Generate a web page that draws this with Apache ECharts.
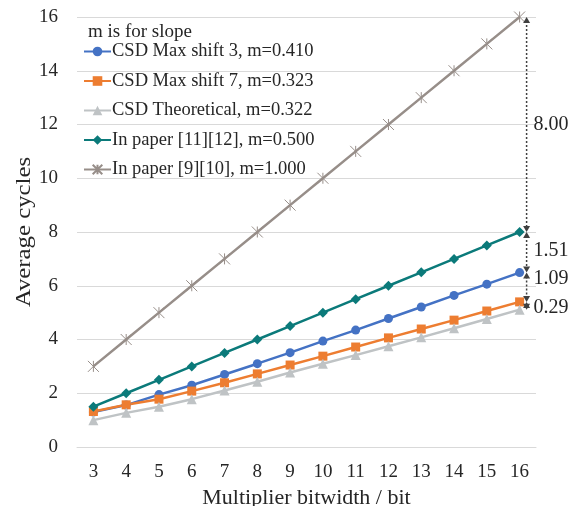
<!DOCTYPE html>
<html>
<head>
<meta charset="utf-8">
<script src="https://cdn.jsdelivr.net/npm/echarts@6/dist/echarts.min.js"></script>
<style>
  html, body { margin: 0; padding: 0; background: #fff; }
  #chart { width: 578px; height: 506px; }
</style>
</head>
<body>
<div id="chart"></div>
<script>
const categories = ['3', '4', '5', '6', '7', '8', '9', '10', '11', '12', '13', '14', '15', '16'];
const maxShift3 = [1.30, 1.56, 1.95, 2.30, 2.70, 3.10, 3.51, 3.94, 4.35, 4.78, 5.21, 5.64, 6.06, 6.49];
const maxShift7 = [1.32, 1.57, 1.78, 2.08, 2.39, 2.72, 3.05, 3.38, 3.72, 4.06, 4.39, 4.72, 5.06, 5.40];
const theoretical = [1.00, 1.27, 1.50, 1.78, 2.10, 2.43, 2.77, 3.10, 3.42, 3.75, 4.08, 4.42, 4.76, 5.11];
const paper1112 = [1.5, 2.0, 2.5, 3.0, 3.5, 4.0, 4.5, 5.0, 5.5, 6.0, 6.5, 7.0, 7.5, 8.0];
const paper910 = [3, 4, 5, 6, 7, 8, 9, 10, 11, 12, 13, 14, 15, 16];
// gap annotation on the right edge
const gapLevels = [16, 8.0, 6.49, 5.40, 5.11];
const gapLabels = ['8.00', '1.51', '1.09', '0.29'];
const gapLabelAt = [12, 7.3, 6.25, 5.2];

const font = '"Liberation Serif", "Times New Roman", serif';
const textColor = '#262626';

const chart = echarts.init(document.getElementById('chart'));

const mkSeries = (name, data, color, symbol, size, extra) => Object.assign({
  name: name,
  type: 'line',
  data: data,
  symbol: symbol,
  symbolSize: size,
  showAllSymbol: true,
  lineStyle: { color: color, width: 2.5 },
  itemStyle: { color: color },
  z: 3
}, extra || {});

chart.setOption({
  animation: false,
  title: {
    text: 'm is for slope',
    left: 83,
    top: 18,
    textStyle: { fontFamily: font, fontSize: 19, fontWeight: 'normal', color: textColor }
  },
  legend: {
    orient: 'vertical',
    left: 78,
    top: 37,
    itemWidth: 27,
    itemHeight: 12,
    itemGap: 10.5,
    textStyle: { fontFamily: font, fontSize: 18.5, color: textColor, padding: [0, 0, 0, -4] }
  },
  grid: { left: 77, right: 42, top: 17, bottom: 59, containLabel: false, outerBoundsMode: 'none' },
  xAxis: {
    type: 'category',
    data: categories,
    name: 'Multiplier bitwidth / bit',
    nameLocation: 'middle',
    nameGap: 35,
    nameTextStyle: { fontFamily: font, fontSize: 22, color: textColor },
    axisLine: { lineStyle: { color: '#d9d9d9', width: 1 } },
    axisTick: { show: false },
    axisLabel: { fontFamily: font, fontSize: 19, color: textColor, margin: 16 }
  },
  yAxis: {
    type: 'value',
    min: 0,
    max: 16,
    interval: 2,
    axisLine: { show: false },
    axisTick: { show: false },
    axisLabel: { fontFamily: font, fontSize: 19, color: textColor, margin: 19 },
    splitLine: { lineStyle: { color: '#d9d9d9', width: 1 } }
  },
  series: [
    mkSeries('CSD Max shift 3, m=0.410', maxShift3, '#4472c4', 'circle', 9),
    mkSeries('CSD Max shift 7, m=0.323', maxShift7, '#ed7d31', 'rect', 9),
    mkSeries('CSD Theoretical, m=0.322', theoretical, '#bfc3c5', 'triangle', 10),
    mkSeries('In paper [11][12], m=0.500', paper1112, '#0b7a7a', 'diamond', 10),
    mkSeries('In paper [9][10], m=1.000', paper910, '#978e89', 'path://M0,0L10,10M10,0L0,10M5,0L5,10', 11, {
      itemStyle: { color: '#978e89', borderColor: '#978e89', borderWidth: 1 }
    })
  ]
});

// dotted arrows with the differences between the last points
const lastIdx = categories.length - 1;
const px = (v) => chart.convertToPixel({ xAxisIndex: 0, yAxisIndex: 0 }, [lastIdx, v]);
const ax = px(gapLevels[0])[0] + 7;
const arrowColor = '#404040';
const graphics = [];
const arrow = (y, dir) => ({
  type: 'polygon',
  shape: { points: [[ax - 3.5, y - dir * 6], [ax + 3.5, y - dir * 6], [ax, y]] },
  style: { fill: arrowColor },
  z: 10
});
for (let i = 0; i < gapLabels.length; i++) {
  const y1 = px(gapLevels[i])[1];
  const y2 = px(gapLevels[i + 1])[1];
  graphics.push({
    type: 'line',
    shape: { x1: ax, y1: y1 + 4, x2: ax, y2: y2 - 4 },
    style: { stroke: arrowColor, lineWidth: 1.5, lineDash: [2, 2] },
    z: 10
  });
  graphics.push(arrow(y1, -1));
  graphics.push(arrow(y2, 1));
  graphics.push({
    type: 'text',
    x: ax + 7,
    y: px(gapLabelAt[i])[1],
    style: {
      text: gapLabels[i],
      font: '20px ' + font,
      fill: textColor,
      textVerticalAlign: 'middle',
      verticalAlign: 'middle'
    },
    z: 10
  });
}
// y axis title, stretched along its length like the original
const yMid = (px(0)[1] + px(16)[1]) / 2;
graphics.push({
  type: 'text',
  x: 24,
  y: yMid,
  rotation: Math.PI / 2,
  scaleX: 1.18,
  style: {
    text: 'Average cycles',
    font: '21px ' + font,
    fill: textColor,
    align: 'center',
    verticalAlign: 'middle'
  }
});
chart.setOption({ graphic: graphics });
</script>
</body>
</html>
